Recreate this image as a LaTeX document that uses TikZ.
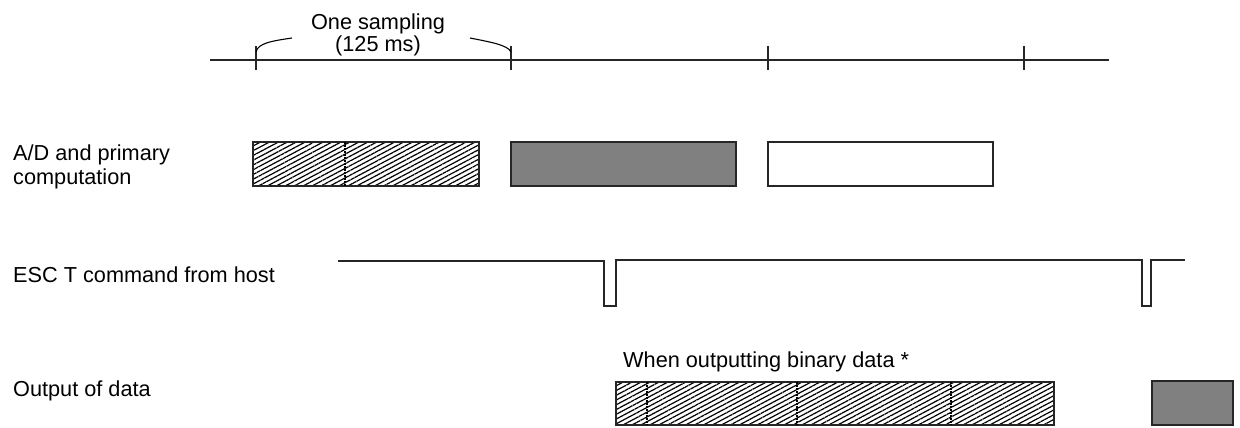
\documentclass[tikz,border=0pt]{standalone}
\usepackage{fontspec}
\setmainfont{Liberation Sans}
\usetikzlibrary{patterns.meta}
\tikzset{
  lbl/.style={anchor=base west, inner sep=0pt, font=\fontsize{21.7}{24}\selectfont},
  clbl/.style={anchor=base, inner sep=0pt, font=\fontsize{21.7}{24}\selectfont},
  ln/.style={line width=1.3pt, black!85},
  blk/.style={draw=black!85, line width=1.5pt, inner sep=0pt, outer sep=0pt},
  hatched/.style={blk, pattern={Lines[angle=28, distance=4.2pt, line width=1.2pt]}},
  grayblk/.style={blk, fill=black!50},
  divider/.style={line width=1.6pt, dash pattern=on 2pt off 1pt, black},
}
\begin{document}
\begin{tikzpicture}[x=1pt, y=-1pt]
\useasboundingbox (0,0) rectangle (1240,428);
% time axis
\coordinate (axL) at (210,60);
\coordinate (axR) at (1109,60);
\draw[ln] (axL) -- (axR);
\foreach \x/\n in {256/t1, 511/t2, 768/t3, 1024/t4} {
  \coordinate (\n top) at (\x,46);
  \coordinate (\n bot) at (\x,70);
  \draw[ln] (\n top) -- (\n bot);
}
\draw[line width=1.1pt] (256,52) .. controls (258,43) and (272,41) .. (292,38);
\draw[line width=1.1pt] (470,38) .. controls (490,42) and (508,45) .. (511,52);
\node[clbl] (samp1) at (378,30) {One sampling};
\node[clbl] (samp2) at (378,52) {(125 ms)};
% labels
\node[lbl] (lab1) at (13,160) {A/D and primary};
\node[lbl] (lab1b) at (13,184) {computation};
\node[lbl] (lab2) at (13,282) {ESC T command from host};
\node[lbl] (lab3) at (13,396) {Output of data};
\node[lbl] (lab4) at (623,367) {When outputting binary data *};
% A/D row
\node[hatched, minimum width=226pt, minimum height=44pt] (ad1) at (366,164) {};
\draw[divider] (345,142) -- (345,186);
\node[grayblk, minimum width=225pt, minimum height=44pt] (ad2) at (623.5,164) {};
\node[blk, fill=white, minimum width=225pt, minimum height=44pt] (ad3) at (880.5,164) {};
% ESC T signal
\draw[ln] (338,261) -- (604,261) -- (604,306) -- (616,306) -- (616,260) -- (1142,260) -- (1142,306) -- (1151,306) -- (1151,260) -- (1185,260);
% output row
\node[hatched, minimum width=438pt, minimum height=43pt] (out1) at (835,403.5) {};
\foreach \x in {647,797,951} \draw[divider] (\x,382) -- (\x,425);
\node[grayblk, minimum width=81pt, minimum height=44pt] (out2) at (1192.5,403) {};
\end{tikzpicture}
\end{document}
